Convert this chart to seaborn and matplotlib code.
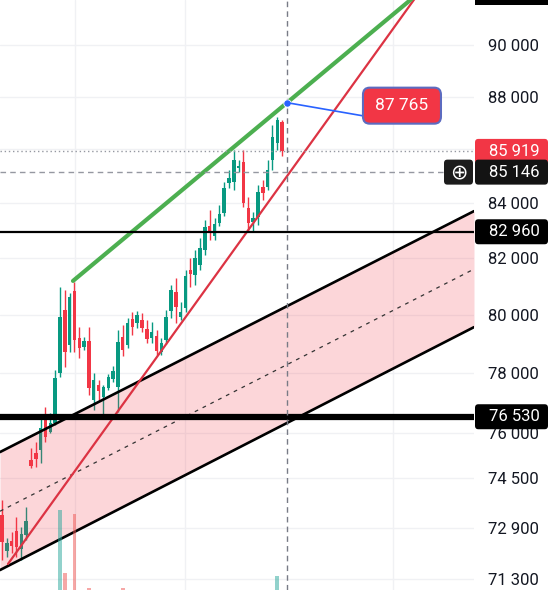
import numpy as np
import pandas as pd
import seaborn as sns
import matplotlib.pyplot as plt
from matplotlib.patches import FancyBboxPatch, Rectangle
from matplotlib.lines import Line2D
from matplotlib.ticker import FixedLocator, FuncFormatter, NullLocator

# candles (one per bar, left to right)
opens = [73316, 72174, 72489, 72806, 72237, 72679, 75096, 75325, 75424, 76585,
         76019, 76318, 78001, 80175, 78960, 80842, 79201, 78891, 79098, 77088,
         77594, 77189, 77492, 77797, 77526, 79236, 78960, 79860, 79722, 79826,
         79513, 79201, 79270, 78719, 79132, 80140, 80807, 79930, 80245, 81586,
         81408, 81764, 82301, 83167, 82805, 83276, 83640, 84742, 84779, 85298,
         85522, 83822, 83312, 83494, 84594, 84594, 85596, 86233, 87027]
closes = [72458, 72426, 72331, 72300, 72711, 73124, 74900, 75129, 76152, 75854,
          76318, 77831, 79930, 78719, 80631, 79132, 78857, 79098, 77492, 77763,
          77391, 77526, 77865, 78069, 79063, 78788, 79722, 79583, 80000, 79548,
          79167, 79409, 78754, 79029, 79930, 80877, 80280, 80105, 81373, 81444,
          82014, 82373, 83130, 82950, 83240, 83603, 84557, 84926, 85596, 85373,
          84005, 83276, 83458, 84409, 84372, 85224, 86460, 87104, 85919]
highs = [73798, 72584, 72774, 73252, 72933, 73573, 75490, 75687, 76485, 76853,
         76652, 78103, 80983, 80877, 80772, 81160, 79583, 79236, 79583, 78001,
         77763, 77594, 77967, 78240, 79478, 79652, 79895, 80105, 80140, 80070,
         79826, 79756, 79478, 79201, 80175, 81054, 81302, 80455, 81586, 82014,
         82301, 82733, 83385, 83749, 83458, 83932, 84779, 85224, 85970, 85596,
         85970, 84225, 83676, 84668, 84853, 85596, 86913, 87217, 87104]
lows = [71891, 71985, 72111, 71985, 71891, 72521, 74835, 74868, 74998, 75688,
        75986, 76252, 77865, 78206, 78719, 78719, 78513, 78788, 77256, 76752,
        77088, 76585, 77425, 77695, 76685, 78582, 78857, 79305, 79548, 79409,
        79029, 79029, 78616, 78616, 78994, 79895, 79722, 79826, 80105, 80983,
        81054, 81586, 82122, 82661, 82661, 83167, 83531, 84557, 84483, 85150,
        83859, 82950, 82950, 83203, 84115, 84483, 85224, 85970, 85745]

# visible volume bars (bar index, volume, up bar?)
vol_idx = [12, 13, 15, 18, 25, 57]
vol_vals = [8.0, 1.7, 7.6, 0.2, 0.2, 1.4]
vol_up = [True, False, False, False, False, True]

price_ticks = [71300, 72900, 74500, 76000, 78000, 80000, 82000, 84000, 86000, 88000, 90000]
session_idx = [15.1, 37.9, 81.0]

level_lines = [82960, 76530]
last_price = 85919
cross_price = 85146
marker_idx = 59.0
marker_price = 87765

green_x, green_y = [14.7, 86.5], [81200, 92100]
red_x, red_y = [1.24, 86.5], [71770, 92120]
chan_x = [-0.41, 97.72]
chan_upper = [75360, 83710]
chan_mid = [73440, 81620]
chan_lower = [71580, 79580]

GREEN = "#089981"
RED = "#f23645"
GRID = "#f0f1f4"
W, H = 554, 590

sns.set_theme(style="white")
plt.rcParams['font.family'] = ['Roboto', 'DejaVu Sans']

fig = plt.figure(figsize=(W / 100, H / 100), dpi=100)
ax = fig.add_axes([0, 0, 474 / W, 1])
ax.set_yscale('log')
ax.set_xlim(-0.41, 97.72)
ax.set_ylim(70960, 91784)

for p in price_ticks:
    ax.axhline(p, color=GRID, lw=1, zorder=0)
for s in session_idx:
    ax.axvline(s, color=GRID, lw=1, zorder=0)

df = pd.DataFrame(dict(open=opens, high=highs, low=lows, close=closes))
df["idx"] = np.arange(len(df))
up = df.close >= df.open
colors = np.where(up, GREEN, RED)
ax.vlines(df.idx, df.low, df.high, colors=colors, lw=1, zorder=2)
ax.bar(df.idx, (df.close - df.open).abs(), bottom=df[["open", "close"]].min(axis=1),
       width=0.72, color=colors, zorder=3, linewidth=0)

# volume on its own scale at the bottom
ax2 = ax.twinx()
ax2.set_ylim(0, 59)
ax2.bar(vol_idx, vol_vals, width=0.8, linewidth=0,
        color=["#26a69a" if u else "#ef5350" for u in vol_up], alpha=0.5)
ax2.axis('off')

# parallel channel
ax.fill_between(chan_x, chan_lower, chan_upper, color=RED, alpha=0.2, lw=0, zorder=4)
sns.lineplot(x=chan_x, y=chan_upper, ax=ax, color="black", lw=1.9, zorder=5, estimator=None, sort=False)
sns.lineplot(x=chan_x, y=chan_lower, ax=ax, color="black", lw=1.9, zorder=5, estimator=None, sort=False)
sns.lineplot(x=chan_x, y=chan_mid, ax=ax, color="#333333", lw=0.9, ls=(0, (3, 4)), zorder=5,
             estimator=None, sort=False)

# trendlines
sns.lineplot(x=red_x, y=red_y, ax=ax, color="#dc3343", lw=1.6, zorder=6, estimator=None, sort=False)
sns.lineplot(x=green_x, y=green_y, ax=ax, color="#4caf50", lw=3, zorder=6, estimator=None, sort=False)

ax.axhline(level_lines[0], color="black", lw=1.6, zorder=6)
ax.axhline(level_lines[1], color="black", lw=4.5, zorder=6)
ax.axhline(last_price, color="#9598a1", lw=1, ls=(0, (1, 2)), zorder=6)
ax.hlines(cross_price, -0.41, 91.5, color="#9598a1", lw=1, ls=(0, (4, 3)), zorder=6)
ax.axvline(marker_idx, color="#787b86", lw=1, ls=(0, (4, 3)), zorder=6)

sns.scatterplot(x=[marker_idx], y=[marker_price], ax=ax, color="#2962ff", s=28,
                edgecolor="white", linewidth=0.6, zorder=9)

ax.yaxis.tick_right()
ax.yaxis.set_major_locator(FixedLocator(price_ticks))
ax.yaxis.set_minor_locator(NullLocator())
ax.yaxis.set_major_formatter(FuncFormatter(lambda v, _: f"{int(round(v)):,}".replace(",", " ")))
ax.tick_params(axis='y', length=0, pad=10, labelsize=12, labelcolor="#131722")
ax.set_xticks([])
for sp in ax.spines.values():
    sp.set_visible(False)

# callout for the marker
dx, dy = ax.transData.transform((marker_idx, marker_price))
fig.add_artist(Line2D([dx / W, (dx + 75) / W], [dy / H, (dy - 13) / H], color="#2962ff", lw=1.2, zorder=8))
fig.add_artist(FancyBboxPatch(((dx + 76) / W, (dy - 21) / H), 78 / W, 36 / H,
                              boxstyle="round,pad=0,rounding_size=0.012",
                              fc=RED, ec="#5c6bc0", lw=1.5, transform=fig.transFigure, zorder=9))
fig.text((dx + 115) / W, (dy - 3) / H, "87 765", color="white", fontsize=12.5,
         ha="center", va="center", zorder=10)


def price_tag(price, label, fc, z):
    y = ax.transData.transform((0, price))[1] / H
    fig.add_artist(FancyBboxPatch((475 / W, y - 12.5 / H), 73 / W, 25 / H,
                                  boxstyle="round,pad=0,rounding_size=0.006",
                                  fc=fc, ec="none", transform=fig.transFigure, zorder=z))
    fig.text(489 / W, y, label, color="white", fontsize=12, ha="left", va="center", zorder=z + 0.5)
    return y


price_tag(level_lines[0], "82 960", "black", 11)
price_tag(level_lines[1], "76 530", "black", 11)
price_tag(last_price, "85 919", RED, 11)
yc = price_tag(cross_price, "85 146", "#131313", 13)
fig.add_artist(FancyBboxPatch((444 / W, yc - 12.5 / H), 29 / W, 25 / H,
                              boxstyle="round,pad=0,rounding_size=0.006",
                              fc="#1c1c1c", ec="none", transform=fig.transFigure, zorder=13))
fig.text(458.5 / W, yc, "\u2295", color="white", fontsize=15, ha="center", va="center",
         family="DejaVu Sans", zorder=14)
fig.add_artist(Rectangle((475 / W, 585 / H), 73 / W, 20 / H, fc="black", ec="none",
                         transform=fig.transFigure, zorder=11))

fig.savefig("out.png", dpi=100, facecolor="white")
